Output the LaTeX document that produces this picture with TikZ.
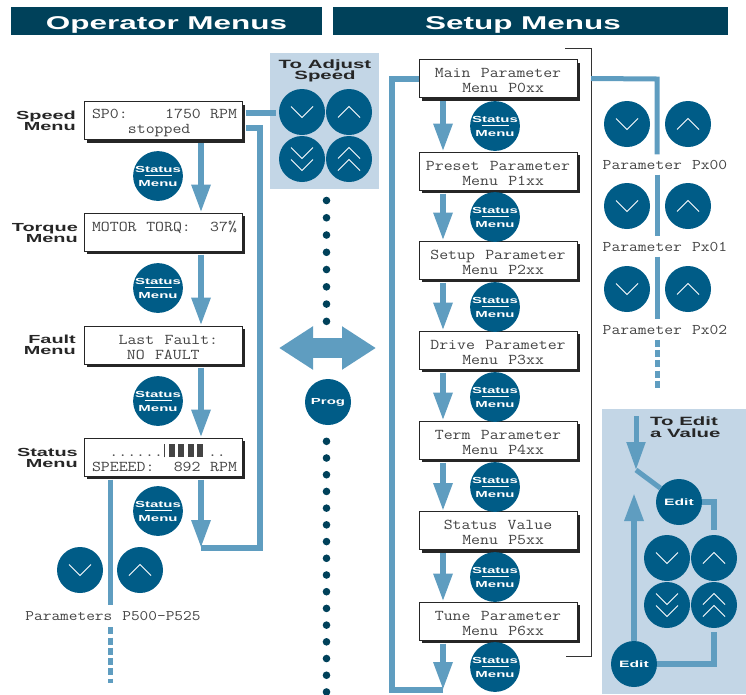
\documentclass[tikz,border=0pt]{standalone}
\usepackage{fontspec}
\usetikzlibrary{arrows.meta,shadows}
\newfontfamily\headfont[FakeStretch=1.7]{Liberation Sans}
\newfontfamily\lcdfont[FakeStretch=1.155,WordSpace=1.155]{Latin Modern Mono}
\definecolor{headblue}{HTML}{00415A}
\definecolor{btnblue}{HTML}{005C87}
\definecolor{flowblue}{HTML}{5F9DC0}
\definecolor{panelblue}{HTML}{C3D6E6}
\definecolor{lcdgray}{HTML}{444444}
\tikzset{
    headbar/.style={fill=headblue, text=white, inner sep=0pt, minimum height=28pt, font=\headfont\bfseries\fontsize{18.5}{19}\selectfont},
    sidelabel/.style={anchor=east, align=right, inner sep=0pt, text=black!85, font=\headfont\bfseries\fontsize{11.7}{11.5}\selectfont},
    paneltitle/.style={align=center, inner sep=0pt, text=black!85, font=\headfont\bfseries\fontsize{12}{11.5}\selectfont},
    panel/.style={fill=panelblue, inner sep=0pt},
    lcdbox/.style={draw=black!85, line width=1pt, fill=white, inner sep=0pt, minimum width=158pt, minimum height=38pt, text=lcdgray, font=\lcdfont\fontsize{15}{15}\selectfont, drop shadow={shadow xshift=3pt, shadow yshift=-3pt, opacity=1, fill=black!85}},
    lcdleft/.style={lcdbox, text width=148pt, align=left},
    lcdmid/.style={lcdbox, align=center},
    paramlabel/.style={inner sep=0pt, minimum height=20pt, text=lcdgray, font=\lcdfont\fontsize{14.8}{15}\selectfont},
    btn/.style={circle, fill=btnblue, inner sep=0pt, minimum size=46pt, align=center, text=white, font=\headfont\bfseries\fontsize{8.8}{7}\selectfont},
    chevron/.style={draw=white, line width=1pt},
    flowline/.style={draw=flowblue, line width=6pt},
    flowarrow/.style={flowline, -{Triangle[width=18pt,length=28pt]}},
    thinline/.style={draw=flowblue, line width=5pt},
    dashline/.style={thinline, dash pattern=on 7pt off 3.3pt},
    dotmark/.style={circle, fill=headblue, inner sep=0pt, minimum size=7.6pt}
}
\newcommand{\lcdtext}[2]{\spaceskip=0pt\xspaceskip=0pt\rule{0pt}{14pt}\hspace*{3pt}#1\\\hspace*{3pt}#2}
\newcommand{\menutext}[2]{\rule{0pt}{14pt}#1\\~Menu #2}
\newcommand{\chev}[3]{\draw[chevron] ([shift={(-11,#2-5.5*#3)}]#1.center) -- ([shift={(0,#2+5.5*#3)}]#1.center) -- ([shift={(11,#2-5.5*#3)}]#1.center);}
\newcommand{\btndown}[2]{\node[btn] (#1) at (#2) {}; \chev{#1}{0}{1}}
\newcommand{\btnup}[2]{\node[btn] (#1) at (#2) {}; \chev{#1}{0}{-1}}
\newcommand{\btnfastdown}[2]{\node[btn] (#1) at (#2) {}; \chev{#1}{-6}{1} \chev{#1}{6}{1}}
\newcommand{\btnfastup}[2]{\node[btn] (#1) at (#2) {}; \chev{#1}{-6}{-1} \chev{#1}{6}{-1}}
\newcommand{\btnstatus}[2]{\node[btn] (#1) at (#2) {Status\\\rule[3.5pt]{27pt}{.7pt}\\Menu};}
\begin{document}
\begin{tikzpicture}[x=1pt,y=-1pt]
    \useasboundingbox (0,0) rectangle (746,694);

    % Title bars
    \node[headbar, minimum width=311pt] (ophead) at (166.5,21) {\rule{0pt}{20pt}Operator Menus};
    \node[headbar, minimum width=395pt] (sethead) at (530.5,21) {\rule{0pt}{20pt}Setup Menus\hspace*{15pt}};

    % Operator displays
    \node[lcdleft] (speedbox) at (163,120.5) {\lcdtext{SP0:~~~~1750 RPM}{~~~\hspace{5pt}stopped}};
    \node[lcdleft] (torquebox) at (163,232) {\lcdtext{MOTOR TORQ:~~37\%}{~}};
    \node[lcdleft] (faultbox) at (163,345) {\lcdtext{~~\hspace{6pt}Last Fault:}{~~~\hspace{4pt}NO FAULT}};
    \node[lcdleft] (statusbox) at (163,457) {\lcdtext{~\hspace{7.1pt}......\hspace{1pt}\rule[-1pt]{1pt}{13pt}\hspace{3.7pt}\rule[-1pt]{6pt}{13pt}\hspace{3.6pt}\rule[-1pt]{6pt}{13pt}\hspace{3.6pt}\rule[-1pt]{6pt}{13pt}\hspace{3.6pt}\rule[-1pt]{6pt}{13pt}\hspace{4.6pt}..}{SPEEED:~~892 RPM}};
    \node[sidelabel] (speedlabel) at (76,121) {Speed\\Menu};
    \node[sidelabel] (torquelabel) at (78,233) {Torque\\Menu};
    \node[sidelabel] (faultlabel) at (76,345) {Fault\\Menu};
    \node[sidelabel] (statuslabel) at (78,458) {Status\\Menu};

    % Status buttons on the left
    \btnstatus{opstat1}{158,176}
    \btnstatus{opstat2}{158,288}
    \btnstatus{opstat3}{158,401}
    \btnstatus{opstat4}{158,511}

    % Left column flow
    \draw[flowarrow] ([xshift=38pt,yshift=-3pt]speedbox.south) -- ([xshift=38pt]torquebox.north);
    \draw[flowarrow] ([xshift=38pt,yshift=-3pt]torquebox.south) -- ([xshift=38pt]faultbox.north);
    \draw[flowarrow] ([xshift=38pt,yshift=-3pt]faultbox.south) -- ([xshift=38pt]statusbox.north);
    \coordinate (statusend) at (201,548);
    \coordinate (loopcorner) at (260,548);
    \draw[flowarrow] ([xshift=38pt,yshift=-3pt]statusbox.south) -- (statusend);
    \draw[flowline] (statusend) -- (loopcorner) |- ([xshift=3pt,yshift=-7.5pt]speedbox.east);

    % Speed adjust panel
    \node[panel, minimum width=109pt, minimum height=136pt] (speedpanel) at (324.5,121) {};
    \node[paneltitle] (speedtitle) at (325,71) {To Adjust\\Speed};
    \btndown{speeddn}{302,112}
    \btnup{speedup}{349,112}
    \btnfastdown{speedfdn}{302,159}
    \btnfastup{speedfup}{349,159}
    \coordinate (speedend) at (276,113);
    \draw[flowline] ([xshift=3pt,yshift=7.5pt]speedbox.east) -- (speedend);

    % Status menu parameters
    \btndown{pardn}{80,570}
    \btnup{parup}{140,570}
    \node[paramlabel, minimum height=22pt, font=\lcdfont\fontsize{14.6}{15}\selectfont] (parlabel) at (113,616) {Parameters P500-P525};
    \coordinate (partop) at ([xshift=-53pt,yshift=-3pt]statusbox.south);
    \coordinate (parend) at (110,683);
    \draw[thinline] (partop) -- (partop |- parlabel.north);
    \draw[dashline] (partop |- parlabel.south) -- (parend);

    % Dots and Prog
    \foreach \i in {0,...,7}
        \node[dotmark] (updot\i) at (326.5,200.5+17.26*\i) {};
    \foreach \i in {0,...,15}
        \node[dotmark] (lowdot\i) at (326.5,441.3+16.71*\i) {};
    \coordinate (progleft) at (279,348);
    \coordinate (progright) at (376,348);
    \draw[draw=flowblue, line width=20pt, {Triangle[width=41pt,length=34pt]}-{Triangle[width=41pt,length=34pt]}] (progleft) -- (progright);
    \node[btn, font=\headfont\bfseries\fontsize{8.8}{9}\selectfont] (progbtn) at (328,402) {Prog};

    % Setup menus
    \node[lcdmid] (mainbox) at (498,78.5) {\menutext{Main Parameter}{P0xx}};
    \node[lcdmid] (presetbox) at (498,171) {\menutext{Preset Parameter}{P1xx}};
    \node[lcdmid] (setupbox) at (498,260) {\menutext{Setup Parameter}{P2xx}};
    \node[lcdmid] (drivebox) at (498,350) {\menutext{Drive Parameter}{P3xx}};
    \node[lcdmid] (termbox) at (498,440) {\menutext{Term Parameter}{P4xx}};
    \node[lcdmid] (valuebox) at (498,530.5) {\menutext{Status Value}{P5xx}};
    \node[lcdmid] (tunebox) at (498,621) {\menutext{Tune Parameter}{P6xx}};

    \btnstatus{setstat0}{495,126}
    \btnstatus{setstat1}{495,217}
    \btnstatus{setstat2}{495,307}
    \btnstatus{setstat3}{495,397}
    \btnstatus{setstat4}{495,487}
    \btnstatus{setstat5}{495,577}
    \btnstatus{setstat6}{495,667}

    \draw[flowarrow] ([xshift=-55pt,yshift=-3pt]mainbox.south) -- ([xshift=-55pt]presetbox.north);
    \draw[flowarrow] ([xshift=-55pt,yshift=-3pt]presetbox.south) -- ([xshift=-55pt]setupbox.north);
    \draw[flowarrow] ([xshift=-55pt,yshift=-3pt]setupbox.south) -- ([xshift=-55pt]drivebox.north);
    \draw[flowarrow] ([xshift=-55pt,yshift=-3pt]drivebox.south) -- ([xshift=-55pt]termbox.north);
    \draw[flowarrow] ([xshift=-55pt,yshift=-3pt]termbox.south) -- ([xshift=-55pt]valuebox.north);
    \draw[flowarrow] ([xshift=-55pt,yshift=-3pt]valuebox.south) -- ([xshift=-55pt]tunebox.north);
    \coordinate (tuneend) at (443,690);
    \coordinate (tunecorner) at (392,690);
    \draw[flowarrow] ([xshift=-55pt,yshift=-3pt]tunebox.south) -- (tuneend);
    \draw[flowline] (tuneend) -- (tunecorner) |- (mainbox.west);

    % Bracket and parameter column
    \coordinate (brtop) at (591,48);
    \draw[draw=black!80, line width=1pt] (565,48) -- (brtop) -- (591,656) -- (566,656);
    \btndown{pxdn0}{627,124}
    \btnup{pxup0}{688,124}
    \btndown{pxdn1}{627,206}
    \btnup{pxup1}{688,206}
    \btndown{pxdn2}{627,289}
    \btnup{pxup2}{688,289}
    \node[paramlabel] (px00) at (665,164.5) {Parameter Px00};
    \node[paramlabel] (px01) at (665,246.5) {Parameter Px01};
    \node[paramlabel] (px02) at (665,329.5) {Parameter Px02};
    \coordinate (pxline) at (657,79);
    \coordinate (pxend) at (657,388);
    \draw[thinline] (mainbox.east -| brtop) -- (pxline) -- (pxline |- px00.north);
    \draw[thinline] (pxline |- px00.south) -- (pxline |- px01.north);
    \draw[thinline] (pxline |- px01.south) -- (pxline |- px02.north);
    \draw[dashline] (pxline |- px02.south) -- (pxend);

    % Edit panel
    \node[panel, minimum width=144pt, minimum height=285pt] (editpanel) at (674,551.5) {};
    \node[paneltitle, align=left, anchor=north west] (edittitle) at (650,417) {To Edit\\a Value};
    \node[btn, font=\headfont\bfseries\fontsize{9.2}{9.5}\selectfont] (editbtn) at (679,502) {Edit};
    \node[btn, font=\headfont\bfseries\fontsize{9.2}{9.5}\selectfont] (editok) at (634,664) {Edit};
    \btndown{editdn}{667,558}
    \btnup{editup}{714,558}
    \btnfastdown{editfdn}{667,605}
    \btnfastup{editfup}{714,605}
    \coordinate (editin) at (636,416);
    \coordinate (editbend) at (636,470);
    \coordinate (edittip) at (634,493);
    \draw[thinline, -{Triangle[width=18pt,length=28pt]}] (editin) -- (editbend);
    \draw[thinline] (editbend) -- (editbtn);
    \draw[flowline, shorten >=5pt] (editbtn.east) -| (editup.north);
    \draw[flowline, shorten >=4pt] (editok.east) -| (editfup.south);
    \draw[flowarrow] (editok.north) -- (edittip);
\end{tikzpicture}
\end{document}
